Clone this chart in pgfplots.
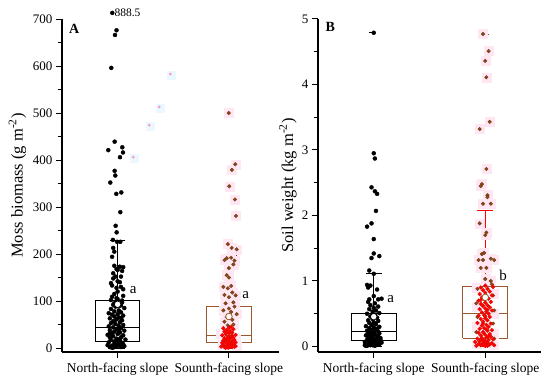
\documentclass[border=0pt]{standalone}
\usepackage{pgfplots}
\pgfplotsset{compat=1.18}
\usepackage{fontspec}
\setmainfont{Liberation Serif}
\definecolor{sbrown}{RGB}{155,88,45}
\definecolor{sdot}{RGB}{115,62,22}
\definecolor{sfill}{RGB}{140,70,25}
\definecolor{halo}{RGB}{255,230,243}
\pgfplotsset{
  common/.style={
    scale only axis, anchor=south west,
    axis x line*=bottom, axis y line*=left,
    axis line style={line width=1.1pt,-},
    tick style={line width=1pt,black},
    tick align=outside,
    major tick length=6pt, minor tick length=3.5pt,
    xtick={1,2}, xticklabels={North-facing slope,Sounth-facing slope},
    xmin=0.5,
    tick label style={font=\fontsize{13}{15}\selectfont},
    xticklabel style={font=\fontsize{13.5}{15}\selectfont, yshift=-1pt},
    label style={font=\fontsize{16.5}{18}\selectfont},
    /pgf/number format/assume math mode=true,
    minor y tick num=1,
    clip=false,
  },
  npts/.style={only marks, mark=*, mark size=2pt, color=black, mark options={draw=black, fill=black}},
  spts/.style={only marks, mark=*, mark size=1.8pt, color=sdot, mark options={draw=sdot, fill=sfill, line width=0.4pt}},
  rpts/.style={only marks, mark=*, mark size=1.9pt, color=red, mark options={draw=red!80!sdot, fill=red, line width=0.4pt}},
  halopts/.style={only marks, mark=square*, mark size=4.5pt, color=halo, mark options={draw=halo, fill=halo}},
  bx/.style={no marks, line width=0.9pt, line join=miter},
  meanN/.style={only marks, mark=*, mark size=3.3pt, color=black, mark options={draw=black, fill=white, line width=0.8pt}},
  meanS/.style={only marks, mark=*, mark size=3.3pt, color=sbrown, mark options={draw=sbrown, fill=white, line width=0.8pt}},
}
\begin{document}
\begin{tikzpicture}
\useasboundingbox (0,0) rectangle (550pt,381pt);
% ---------------- Panel A ----------------
\begin{axis}[common,
  at={(62pt,29pt)}, width=217pt, height=333pt,
  xmax=2.45, ymin=-8.5, ymax=700,
  ytick={0,100,...,700},
  ylabel={Moss biomass (g m\textsuperscript{-2})},
  ylabel style={at={(axis description cs:-0.205,0.5)},anchor=center},
]
% stray marks
\addplot[only marks, mark=square*, mark size=4pt, color=cyan!8, mark options={draw=cyan!8, fill=cyan!8}] table {
1.483 580
1.384 510
1.294 471
1.15 403
};
\addplot[only marks, mark=*, mark size=1.2pt, color=magenta!40, mark options={draw=magenta!40, fill=magenta!40}] table {
1.473 583
1.374 513
1.284 474
1.14 406
};
% south halos
\addplot[halopts] table {
1.998 500
2.057 391
2.027 379
2.003 344
2.054 316
2.063 281
1.99 221
2.025 213
2.07 210
1.98 191
1.96 187
2.02 192
2.05 186
2.00 170
2.04 178
1.98 155
2.00 150
1.95 130
2.02 132
1.99 127
2.03 118
2.06 112
1.96 113
2.00 108
2.04 97
1.97 95
2.05 88
2.00 84
1.95 80
2.02 77
2.07 72
1.98 66
2.03 60
1.96 56
2.04 50
1.99 48
1.93 30
2.06 20
1.94 8
2.07 4
};
% north points
\addplot[npts] table {
0.990 676
0.976 666
0.943 596
0.973 439
0.916 421
1.042 427
1.048 416
1.021 406
0.973 377
0.979 367
0.934 352
0.988 328
1.033 331
1.024 289
0.982 260
0.991 246
0.958 230
1.024 226
0.995 226
0.96 213
0.97 205
0.95 194
1.02 173
0.99 168
1.04 164
1.00 166
1.05 172
0.97 175
0.98 152
0.96 148
0.95 133
0.99 128
1.03 130
1.05 125
1.00 120
0.95 109
0.99 106
0.94 102
1.04 101
0.97 95
1.03 91
0.93 2
0.96 1
0.99 3
1.03 2
1.06 4
0.91 6
0.95 5
1.01 7
1.05 8
0.98 10
0.92 12
1.04 11
0.97 14
1.02 15
0.94 17
1.07 18
0.99 20
0.93 22
1.03 23
0.96 25
1.05 27
0.91 28
1.00 30
0.95 32
1.02 33
0.97 35
1.06 37
0.93 38
0.99 40
1.03 42
0.96 44
0.92 46
1.01 47
1.05 49
0.98 51
0.94 53
1.02 55
0.96 57
1.04 59
0.99 61
0.93 63
1.01 65
0.97 67
1.05 69
0.95 71
1.00 72
0.92 74
1.03 76
0.97 78
1.01 80
0.94 83
1.06 85
0.98 88
1.02 90
0.96 92
1.04 97
0.99 99
1.00 5
0.97 8
1.02 19
0.95 26
1.00 41
0.97 56
1.03 64
0.93 31
0.99 13
1.04 3
0.95 0.5
1.01 36
1.00 104
1.05 111
0.97 115
1.02 140
0.94 138
1.00 142
1.03 152
0.96 159
};
\addplot[npts] coordinates {(0.952,713)};
\node[anchor=west, font=\fontsize{11.5}{13}\selectfont, inner sep=1pt] at (axis cs:0.962,713) {888.5};
% south whisker (red) under points
\addplot[red, bx] coordinates {(2,89) (2,196)};
\addplot[red, bx] coordinates {(1.93,196) (2.07,196)};
\addplot[red, bx] coordinates {(2,11) (2,0)};
\addplot[red, bx] coordinates {(1.93,0) (2.07,0)};
% south points (sparse)
\addplot[spts] table {
2.057 391
2.027 379
2.003 344
2.054 316
2.063 281
1.99 221
2.025 213
2.07 210
1.98 191
1.96 187
2.02 192
2.05 186
2.00 170
2.04 178
1.98 155
2.00 150
1.95 130
2.02 132
1.99 127
2.03 118
2.06 112
1.96 113
2.00 108
2.04 97
1.97 95
2.05 88
2.00 84
1.95 80
2.02 77
2.07 72
1.98 66
2.03 60
1.96 56
2.04 50
1.99 48
1.998 500
};
% south points (dense, red)
\addplot[rpts] table {
2.00 1
1.96 2
2.03 2
1.93 3
2.06 4
1.98 5
2.01 6
1.95 7
2.04 8
1.99 9
2.02 10
1.94 11
2.06 12
1.97 13
2.00 14
2.03 15
1.95 16
2.05 17
1.98 18
2.01 20
1.96 21
2.04 22
1.99 24
2.02 25
1.94 27
2.06 28
1.97 30
2.00 31
2.03 33
1.96 35
2.01 36
1.98 38
2.04 40
1.95 42
2.00 43
2.02 45
1.97 0.5
2.05 3
1.99 1
2.02 4
1.95 9
2.00 19
2.03 26
1.98 34
};
\addplot[sbrown, line width=0.8pt, no marks] coordinates {(2.0,500) (2.045,500)};
% boxes north
\addplot[black, bx] coordinates {(0.8,13) (1.2,13) (1.2,101) (0.8,101) (0.8,13)};
\addplot[black, bx] coordinates {(0.8,44) (1.2,44)};
\addplot[black, bx] coordinates {(1,101) (1,228)};
\addplot[black, bx] coordinates {(0.93,228) (1.07,228)};
\addplot[black, bx] coordinates {(1,13) (1,0)};
\addplot[black, bx] coordinates {(0.93,0) (1.07,0)};
% boxes south
\addplot[sbrown, bx] coordinates {(1.8,11) (2.2,11) (2.2,89) (1.8,89) (1.8,11)};
\addplot[sbrown, bx] coordinates {(1.8,27) (2.2,27)};
% means
\addplot[meanN] coordinates {(1,93)};
\addplot[meanS] coordinates {(2,67)};
\node[font=\fontsize{15}{17}\selectfont] at (axis cs:1.14,123) {a};
\node[font=\fontsize{15}{17}\selectfont] at (axis cs:2.15,113) {a};
\node[font=\bfseries\fontsize{14}{16}\selectfont] at (axis cs:0.61,678) {A};
\end{axis}
% ---------------- Panel B ----------------
\begin{axis}[common,
  at={(318pt,29pt)}, width=223pt, height=333pt,
  xmax=2.5, ymin=-0.084, ymax=5,
  ytick={0,1,...,5},
  ylabel={Soil weight (kg m\textsuperscript{-2})},
  ylabel style={at={(axis description cs:-0.135,0.5)},anchor=center},
]
\addplot[halopts] table {
2.03 4.51
2.00 4.36
2.01 4.11
2.04 3.43
1.95 3.32
2.01 2.71
1.97 2.48
1.96 2.45
2.02 2.31
2.02 2.28
1.98 2.18
2.05 2.18
1.95 1.88
2.01 1.74
2.00 1.70
1.99 1.43
1.97 1.41
1.94 1.32
1.98 1.32
2.05 1.34
2.08 1.32
1.96 1.20
2.01 1.20
2.00 1.03
2.05 1.00
1.92 0.9
2.08 0.8
1.92 0.6
2.08 0.5
1.92 0.3
2.08 0.2
1.92 0.05
2.08 0.03
1.98 4.77
};
% north points
\addplot[npts] table {
1.00 2.95
1.01 2.87
0.98 2.43
1.01 2.37
1.03 2.33
1.02 2.07
0.98 1.88
0.94 1.83
1.00 1.64
1.00 1.42
1.05 1.38
0.98 1.35
0.96 1.16
1.00 1.11
0.94 0.94
0.97 0.93
0.95 0.90
1.03 0.87
1.00 0.77
0.96 0.72
1.04 0.72
1.07 0.73
0.93 0.01
0.97 0.02
1.01 0.01
1.05 0.03
0.95 0.04
0.99 0.05
1.03 0.04
1.07 0.06
0.92 0.07
0.96 0.08
1.00 0.09
1.04 0.08
0.94 0.10
0.98 0.11
1.02 0.12
1.06 0.13
0.95 0.14
0.99 0.15
1.03 0.16
0.93 0.17
0.97 0.18
1.01 0.19
1.05 0.20
0.96 0.21
1.00 0.22
1.04 0.23
0.94 0.24
0.98 0.25
1.02 0.26
0.96 0.28
1.00 0.29
1.05 0.30
0.93 0.31
0.98 0.33
1.02 0.34
0.96 0.36
1.00 0.37
1.04 0.39
0.95 0.40
0.99 0.42
1.03 0.44
0.97 0.46
1.01 0.48
0.94 0.50
1.05 0.51
0.99 0.53
1.02 0.55
0.96 0.57
1.00 0.59
1.04 0.61
0.97 0.63
1.01 0.66
0.95 0.68
0.99 0.02
1.02 0.06
0.97 0.12
1.00 0.03
0.95 0.19
1.03 0.27
0.98 0.07
1.06 0.10
0.92 0.02
1.01 0.35
0.97 0.05
1.04 0.15
0.99 0.21
0.94 0.01
1.02 0.09
1.00 4.79
};
\addplot[black, line width=0.8pt, no marks] coordinates {(0.955,4.79) (1.0,4.79)};
% south whisker (red)
\addplot[red, bx] coordinates {(2,0.913) (2,2.08)};
\addplot[red, bx] coordinates {(1.93,2.08) (2.07,2.08)};
\addplot[red, bx] coordinates {(2,0.125) (2,0)};
\addplot[red, bx] coordinates {(1.93,0) (2.07,0)};
% south points sparse
\addplot[spts] table {
2.03 4.51
2.00 4.36
2.01 4.11
2.04 3.43
1.95 3.32
2.01 2.71
1.97 2.48
1.96 2.45
2.02 2.31
2.02 2.28
1.98 2.18
2.05 2.18
1.95 1.88
2.01 1.74
2.00 1.70
1.99 1.43
1.97 1.41
1.94 1.32
1.98 1.32
2.05 1.34
2.08 1.32
1.96 1.20
2.01 1.20
2.00 1.03
2.05 1.00
2.06 0.95
1.93 0.88
2.07 0.78
1.92 0.66
2.08 0.55
1.93 0.45
2.07 0.35
1.92 0.22
2.08 0.12
1.98 4.77
};
% south points dense red
\addplot[rpts] table {
1.92 0.01
1.96 0.02
2.00 0.01
2.04 0.03
2.08 0.02
1.94 0.04
1.98 0.05
2.02 0.06
2.06 0.05
1.91 0.07
1.95 0.08
1.99 0.09
2.03 0.10
2.07 0.11
1.93 0.12
1.97 0.13
2.01 0.14
2.05 0.15
1.96 0.17
2.00 0.18
2.04 0.19
1.94 0.21
1.98 0.22
2.02 0.24
2.06 0.25
1.95 0.27
1.99 0.28
2.03 0.30
1.97 0.32
2.01 0.33
2.05 0.35
1.93 0.36
1.98 0.38
2.02 0.40
1.96 0.42
2.00 0.43
2.04 0.45
1.94 0.47
1.99 0.48
2.03 0.50
1.97 0.52
2.01 0.53
2.06 0.55
1.95 0.57
2.00 0.58
2.04 0.60
1.98 0.62
2.02 0.63
1.96 0.65
2.00 0.67
2.05 0.68
1.94 0.70
1.99 0.72
2.03 0.73
1.97 0.75
2.01 0.77
2.06 0.78
1.95 0.80
2.00 0.82
2.04 0.84
1.98 0.86
2.02 0.88
1.96 0.90
2.07 0.91
2.00 0.93
1.99 0.03
2.01 0.07
1.97 0.10
2.03 0.16
1.99 0.20
2.01 0.26
1.97 0.03
2.02 0.01
1.98 0.35
2.00 0.46
2.02 0.56
1.96 0.71
2.00 0.04
};
\addplot[sbrown, line width=0.8pt, no marks] coordinates {(1.98,4.77) (2.03,4.77)};
% boxes north
\addplot[black, bx] coordinates {(0.8,0.095) (1.2,0.095) (1.2,0.507) (0.8,0.507) (0.8,0.095)};
\addplot[black, bx] coordinates {(0.8,0.226) (1.2,0.226)};
\addplot[black, bx] coordinates {(1,0.507) (1,1.11)};
\addplot[black, bx] coordinates {(0.93,1.11) (1.07,1.11)};
\addplot[black, bx] coordinates {(1,0.095) (1,0)};
\addplot[black, bx] coordinates {(0.93,0) (1.07,0)};
% boxes south
\addplot[sbrown, bx] coordinates {(1.8,0.125) (2.2,0.125) (2.2,0.913) (1.8,0.913) (1.8,0.125)};
\addplot[sbrown, bx] coordinates {(1.8,0.507) (2.2,0.507)};
\addplot[meanN] coordinates {(1,0.455)};
\addplot[meanS] coordinates {(2,0.75)};
\node[font=\fontsize{15}{17}\selectfont] at (axis cs:1.153,0.72) {a};
\node[font=\fontsize{15}{17}\selectfont] at (axis cs:2.16,1.09) {b};
\node[font=\bfseries\fontsize{14}{16}\selectfont] at (axis cs:0.61,4.88) {B};
\end{axis}
\end{tikzpicture}
\end{document}
